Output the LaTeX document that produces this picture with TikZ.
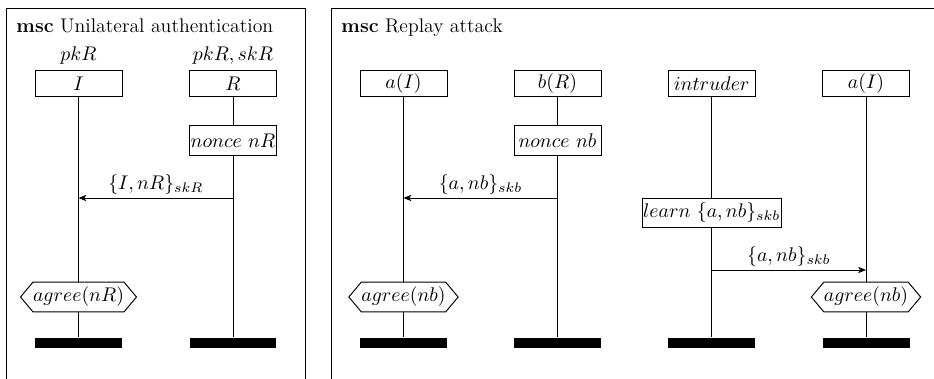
\RequirePackage{fix-cm}
\documentclass[tikz,border=0pt]{standalone}
\usetikzlibrary{arrows.meta,shapes.symbols}
\begin{document}
\fontsize{11.3}{13.6}\selectfont
\begin{tikzpicture}[x=0.5714pt,y=-0.5714pt,line width=0.55pt,
  inst/.style={draw,fill=white,minimum width=49.7pt,minimum height=15.4pt,inner sep=1pt},
  act/.style={draw,fill=white,minimum width=49.7pt,minimum height=16.6pt,inner sep=0.6pt},
  cond/.style={draw,fill=white,signal,signal to=west and east,signal pointer angle=100,minimum height=17.1pt,inner xsep=0pt,inner ysep=1pt},
  endbar/.style={fill=black,minimum width=49.7pt,minimum height=6pt,inner sep=0pt},
  msg/.style={-{Stealth[length=4.5pt,width=3.6pt,inset=1.2pt]}},
  lbl/.style={midway,above,inner sep=1.5pt}]
\useasboundingbox (0,0) rectangle (934,379);
\clip (0,0) rectangle (934,379);
% frames
\draw (6,8) rectangle (305,420);
\draw (331,8) rectangle (960,420);
\node[anchor=base west,inner sep=0pt] (t1) at (16,32) {\textbf{msc} Unilateral authentication};
\node[anchor=base west,inner sep=0pt] (t2) at (341,32) {\textbf{msc} Replay attack};
% left panel
\node[anchor=base,inner sep=0pt] (k1) at (78.5,60) {$pkR$};
\node[anchor=base,inner sep=0pt] (k2) at (233,60) {$pkR, skR$};
\node[inst] (I) at (78.5,83.5) {$I$};
\node[inst] (R) at (233,83.5) {$R$};
\node[act] (nR) at (233,140.5) {$nonce\ nR$};
\node[cond] (ag1) at (78.5,297) {$agree(nR)$};
\node[endbar] (bI) at (78.5,343) {};
\node[endbar] (bR) at (233,343) {};
\draw (I.south) -- (ag1.north);
\draw (ag1.south) -- (bI.north);
\draw (R.south) -- (nR.north);
\draw (nR.south) -- (bR.north);
\coordinate (m1a) at (233,198);
\coordinate (m1b) at (78.5,198);
\draw[msg] (m1a) -- (m1b) node[lbl] {$\{I, nR\}_{skR}$};
% right panel
\node[inst] (aI) at (403.5,83.5) {$a(I)$};
\node[inst] (bRr) at (557.5,83.5) {$b(R)$};
\node[inst] (intr) at (711.7,83.5) {$intruder$};
\node[inst] (aI2) at (866,83.5) {$a(I)$};
\node[act] (nb) at (557.5,140.5) {$nonce\ nb$};
\node[act] (learn) at (711.7,212.8) {$learn\ \{a, nb\}_{skb}$};
\node[cond] (ag2) at (403.5,297) {$agree(nb)$};
\node[cond] (ag3) at (866,297) {$agree(nb)$};
\node[endbar] (e1) at (403.5,343) {};
\node[endbar] (e2) at (557.5,343) {};
\node[endbar] (e3) at (711.7,343) {};
\node[endbar] (e4) at (866,343) {};
\draw (aI.south) -- (ag2.north);
\draw (ag2.south) -- (e1.north);
\draw (bRr.south) -- (nb.north);
\draw (nb.south) -- (e2.north);
\draw (intr.south) -- (learn.north);
\draw (learn.south) -- (e3.north);
\draw (aI2.south) -- (ag3.north);
\draw (ag3.south) -- (e4.north);
\coordinate (m2a) at (557.5,198);
\coordinate (m2b) at (403.5,198);
\draw[msg] (m2a) -- (m2b) node[lbl] {$\{a, nb\}_{skb}$};
\coordinate (m3a) at (711.7,270);
\coordinate (m3b) at (866,270);
\draw[msg] (m3a) -- (m3b) node[lbl] {$\{a, nb\}_{skb}$};
\end{tikzpicture}
\end{document}
